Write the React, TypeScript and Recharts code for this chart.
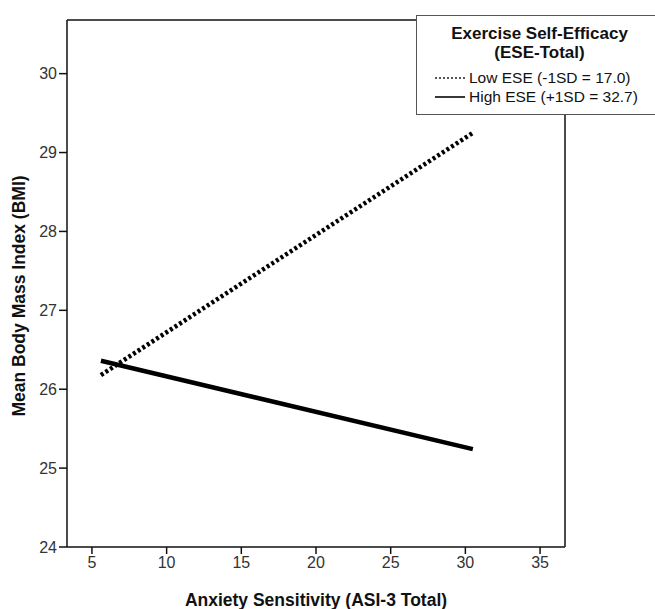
import React from 'react';
import {
  LineChart,
  Line,
  XAxis,
  YAxis,
  ReferenceLine,
} from 'recharts';

// ASI-3 range shown, and predicted BMI at the two ESE levels
const asiValues = [5.6, 30.5];
const lowEse = [26.18, 29.25];
const highEse = [26.36, 25.24];
const xTicks = [5, 10, 15, 20, 25, 30, 35];
const yTicks = [24, 25, 26, 27, 28, 29, 30];

const data = asiValues.map((asi, i) => ({ asi, low: lowEse[i], high: highEse[i] }));

const font = '"Liberation Sans", Arial, sans-serif';
const X_MIN = 3.33;
const X_MAX = 36.67;
const Y_MIN = 24;
const Y_MAX = 30.68;

const rowStyle: React.CSSProperties = {
  position: 'absolute',
  left: 18,
  display: 'flex',
  alignItems: 'center',
  fontSize: 15.5,
  lineHeight: '18px',
  whiteSpace: 'nowrap',
};

const titleStyle: React.CSSProperties = {
  position: 'absolute',
  left: 0,
  width: 245,
  textAlign: 'center',
  fontWeight: 'bold',
  fontSize: 17,
  lineHeight: '19px',
  whiteSpace: 'nowrap',
};

const LegendBox = () => (
  <div
    style={{
      position: 'absolute',
      top: 15,
      left: 416,
      width: 245,
      height: 100,
      border: '1px solid #555',
      background: '#fff',
      fontFamily: font,
      color: '#111',
      boxSizing: 'border-box',
    }}
  >
    <div style={{ ...titleStyle, top: 8 }}>Exercise Self-Efficacy</div>
    <div style={{ ...titleStyle, top: 27 }}>(ESE-Total)</div>
    <div style={{ ...rowStyle, top: 53 }}>
      <svg width={32} height={6}>
        <line x1={0} y1={3} x2={30} y2={3} stroke="#222" strokeWidth={1.3} strokeDasharray="2 2" />
      </svg>
      <span style={{ marginLeft: 2 }}>Low ESE (-1SD = 17.0)</span>
    </div>
    <div style={{ ...rowStyle, top: 72 }}>
      <svg width={32} height={6}>
        <line x1={0} y1={3} x2={30} y2={3} stroke="#222" strokeWidth={1.8} />
      </svg>
      <span style={{ marginLeft: 2 }}>High ESE (+1SD = 32.7)</span>
    </div>
  </div>
);

const YLabel = () => (
  <text
    x={19}
    y={296}
    transform="rotate(-90 19 296)"
    textAnchor="middle"
    dominantBaseline="central"
    fontSize={17.5}
    fontWeight="bold"
    fill="#111"
    fontFamily={font}
  >
    Mean Body Mass Index (BMI)
  </text>
);

export default function App() {
  return (
    <div style={{ position: 'absolute', top: 0, left: 0, width: 655, height: 609, background: '#fff', overflow: 'hidden' }}>
      <LineChart
        width={655}
        height={609}
        data={data}
        margin={{ top: 20, right: 90, bottom: 0, left: 0 }}
      >
        <XAxis
          dataKey="asi"
          type="number"
          domain={[X_MIN, X_MAX]}
          ticks={xTicks}
          allowDataOverflow
          height={62}
          stroke="#111"
          strokeWidth={1.5}
          tickSize={7}
          tick={{ fontSize: 16, fill: '#333', fontFamily: font }}
          tickMargin={3}
          label={{
            value: 'Anxiety Sensitivity (ASI-3 Total)',
            position: 'insideBottom',
            offset: 3,
            style: { fontSize: 17.5, fontWeight: 'bold', fill: '#111', fontFamily: font },
          }}
        />
        <YAxis
          type="number"
          domain={[Y_MIN, Y_MAX]}
          ticks={yTicks}
          allowDataOverflow
          width={67}
          stroke="#111"
          strokeWidth={1.5}
          tickSize={8}
          tick={{ fontSize: 16, fill: '#333', fontFamily: font }}
          tickMargin={2}
          label={<YLabel />}
        />
        <ReferenceLine y={Y_MAX} stroke="#111" strokeWidth={1.5} />
        <ReferenceLine x={X_MAX} stroke="#111" strokeWidth={1.5} />
        <Line
          dataKey="low"
          stroke="#000"
          strokeWidth={4.5}
          strokeDasharray="3 2.5"
          dot={false}
          isAnimationActive={false}
        />
        <Line
          dataKey="high"
          stroke="#000"
          strokeWidth={4.5}
          dot={false}
          isAnimationActive={false}
        />
      </LineChart>
      <LegendBox />
    </div>
  );
}
